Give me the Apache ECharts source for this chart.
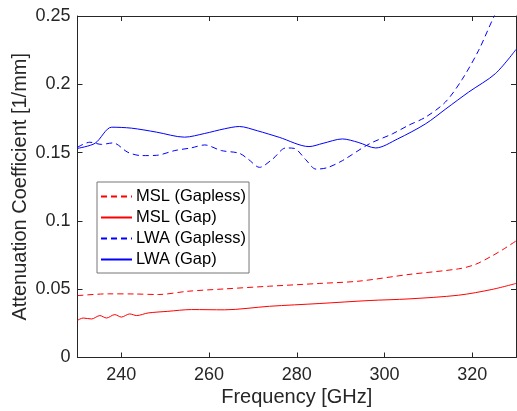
<!DOCTYPE html>
<html>
<head>
<meta charset="utf-8">
<script src="https://cdn.jsdelivr.net/npm/echarts@6/dist/echarts.min.js"></script>
<style>
  html, body { margin: 0; padding: 0; background: #fff; }
  #chart { width: 517px; height: 411px; }
</style>
</head>
<body>
<div id="chart"></div>
<script>
// values
const seriesNames = ['MSL (Gapless)', 'MSL (Gap)', 'LWA (Gapless)', 'LWA (Gap)']
const xTicks = [240, 260, 280, 300, 320]
const yTicks = [0, 0.05, 0.1, 0.15, 0.2, 0.25]

const mslGaplessFreq = [230, 237, 243, 248.4, 255.2, 263.5, 273.8, 285.1, 294.2, 305.6, 316.9, 320.7, 324.5, 327, 330]
const mslGaplessVal = [0.0453, 0.0466, 0.0465, 0.0461, 0.0485, 0.0502, 0.0522, 0.0542, 0.0559, 0.0608, 0.0649, 0.0681, 0.0743, 0.079, 0.0853]

const mslGapFreq = [230, 231.3, 233.2, 235.1, 236.6, 238.5, 240, 241.9, 243.5, 246.1, 250.6, 256, 263.5, 273.8, 285.1, 296.5, 305.6, 316.9, 324.5, 330]
const mslGapVal = [0.0272, 0.0289, 0.0282, 0.0307, 0.0289, 0.0314, 0.0296, 0.0319, 0.0307, 0.0326, 0.0338, 0.0351, 0.0349, 0.0375, 0.0395, 0.0417, 0.0429, 0.0456, 0.0498, 0.0542]

const lwaGaplessFreq = [230, 232.8, 235.5, 238.1, 241.5, 244.6, 248, 252.2, 256, 259, 262.8, 266.9, 269, 271.5, 274.5, 277.5, 279.4, 282, 284.4, 287, 290.4, 296.5, 301.8, 305.5, 309.4, 313.9, 317.7, 321.5, 324.9, 328]
const lwaGaplessVal = [0.1539, 0.1576, 0.156, 0.1571, 0.1502, 0.1478, 0.148, 0.1515, 0.1535, 0.1556, 0.1515, 0.1495, 0.145, 0.1392, 0.1453, 0.1534, 0.1531, 0.145, 0.1379, 0.139, 0.1441, 0.1563, 0.1637, 0.170, 0.176, 0.187, 0.2035, 0.225, 0.249, 0.268]

const lwaGapFreq = [230, 234, 237.8, 242.3, 248, 254.4, 259, 263.5, 266.9, 271, 276, 282.8, 286, 290.4, 294, 298, 303, 309.4, 314, 319.2, 325.3, 330]
const lwaGapVal = [0.1531, 0.1568, 0.1686, 0.1679, 0.165, 0.1613, 0.164, 0.1674, 0.1691, 0.166, 0.1612, 0.1544, 0.1568, 0.160, 0.1575, 0.1534, 0.160, 0.1711, 0.182, 0.1943, 0.2078, 0.2255]

const pairs = (xs, ys) => xs.map((x, i) => [x, ys[i]])

const FONT = 'Liberation Sans'
const INK = '#262626'

const chart = echarts.init(document.getElementById('chart'), null, { renderer: 'canvas' })

const makeLine = (name, xs, ys, color, dashed) => ({
  name: name,
  type: 'line',
  data: pairs(xs, ys),
  smooth: 0.3,
  symbol: 'none',
  clip: true,
  lineStyle: { color: color, width: 1, type: dashed ? [6, 4] : 'solid' },
  itemStyle: { color: color }
})

const option = {
  animation: false,
  backgroundColor: '#fff',
  textStyle: { fontFamily: FONT },
  grid: { left: 77.5, right: 1, top: 16, bottom: 53.5, containLabel: false, outerBoundsMode: 'none' },
  legend: {
    data: seriesNames,
    orient: 'vertical',
    left: 97,
    top: 182,
    itemWidth: 31,
    itemHeight: 14,
    itemGap: 4,
    padding: [6, 3, 5, 3],
    borderColor: '#777',
    borderWidth: 1,
    backgroundColor: '#fff',
    itemStyle: { opacity: 0, borderWidth: 0 },
    textStyle: { fontFamily: FONT, fontSize: 16.5, color: '#000', padding: [0, 0, 0, -1] }
  },
  xAxis: [
    {
      type: 'value',
      min: 230,
      max: 330,
      name: 'Frequency [GHz]',
      nameLocation: 'middle',
      nameGap: 30,
      nameMoveOverlap: false,
      nameTextStyle: { fontFamily: FONT, fontSize: 20, color: INK },
      axisLine: { show: true, lineStyle: { color: INK, width: 1 } },
      axisTick: { inside: true, length: 5, customValues: xTicks, lineStyle: { color: INK } },
      axisLabel: { customValues: xTicks, fontFamily: FONT, fontSize: 18, color: INK, margin: 9 },
      splitLine: { show: false }
    },
    {
      type: 'value',
      position: 'top',
      min: 230,
      max: 330,
      axisLine: { show: true, onZero: false, lineStyle: { color: INK, width: 1 } },
      axisTick: { inside: true, length: 5, customValues: xTicks, lineStyle: { color: INK } },
      axisLabel: { show: false },
      splitLine: { show: false }
    }
  ],
  yAxis: [
    {
      type: 'value',
      min: 0,
      max: 0.25,
      name: 'Attenuation Coefficient [1/mm]',
      nameLocation: 'middle',
      nameGap: 47,
      nameMoveOverlap: false,
      nameTextStyle: { fontFamily: FONT, fontSize: 20, color: INK },
      axisLine: { show: true, lineStyle: { color: INK, width: 1 } },
      axisTick: { show: true, inside: true, length: 5, customValues: yTicks, lineStyle: { color: INK } },
      axisLabel: { customValues: yTicks, fontFamily: FONT, fontSize: 18, color: INK, margin: 7 },
      splitLine: { show: false }
    },
    {
      type: 'value',
      position: 'right',
      min: 0,
      max: 0.25,
      axisLine: { show: true, onZero: false, lineStyle: { color: INK, width: 1 } },
      axisTick: { show: true, inside: true, length: 5, customValues: yTicks, lineStyle: { color: INK } },
      axisLabel: { show: false },
      splitLine: { show: false }
    }
  ],
  series: [
    makeLine(seriesNames[0], mslGaplessFreq, mslGaplessVal, '#ff0000', true),
    makeLine(seriesNames[1], mslGapFreq, mslGapVal, '#ff0000', false),
    makeLine(seriesNames[2], lwaGaplessFreq, lwaGaplessVal, '#0000ff', true),
    makeLine(seriesNames[3], lwaGapFreq, lwaGapVal, '#0000ff', false)
  ]
}

chart.setOption(option)
</script>
</body>
</html>
